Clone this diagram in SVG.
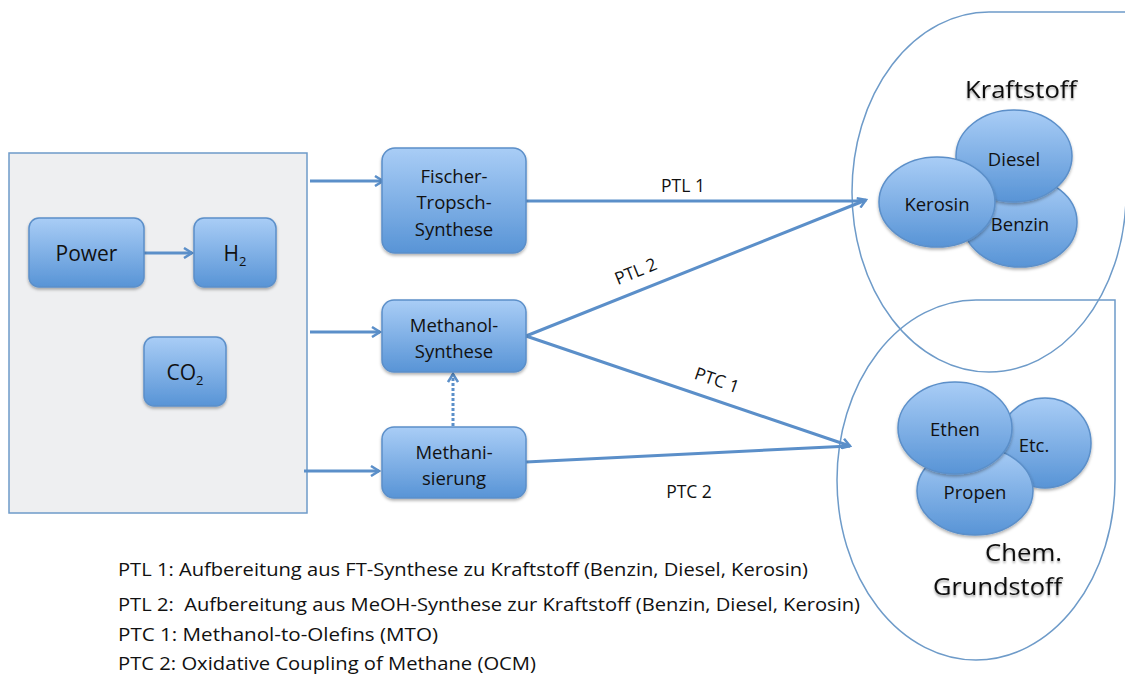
<svg xmlns="http://www.w3.org/2000/svg" width="1125" height="676" viewBox="0 0 1125 676">
<style>
.node{fill:url(#g);stroke:#5b8fc9;stroke-width:1.5;filter:url(#sh)}
.t{font-family:"Open Sans","Liberation Sans",sans-serif;fill:#111;text-anchor:middle}
.nt{font-size:18.5px}
.lbl{font-size:17.5px}
.big{font-family:"Open Sans","Liberation Sans",sans-serif;font-size:24px;fill:#111;filter:url(#ts)}
.leg{font-family:"Open Sans","Liberation Sans",sans-serif;font-size:19px;fill:#111}
.con{stroke:#5b8fc9;stroke-width:3;fill:none}
.outline{fill:none;stroke:#6e9bc9;stroke-width:1.5}
</style>
<defs>
<linearGradient id="g" x1="0" y1="0" x2="0" y2="1">
<stop offset="0" stop-color="#a9cdf6"/>
<stop offset="1" stop-color="#5894d6"/>
</linearGradient>
<filter id="sh" x="-20%" y="-20%" width="140%" height="150%">
<feDropShadow dx="0" dy="2" stdDeviation="1.5" flood-color="#000" flood-opacity="0.3"/>
</filter>
<filter id="ts" x="-10%" y="-30%" width="120%" height="160%">
<feDropShadow dx="0" dy="2" stdDeviation="1.2" flood-color="#000" flood-opacity="0.35"/>
</filter>
<marker id="a" viewBox="0 0 12 12" refX="10" refY="6" markerWidth="12" markerHeight="12" markerUnits="userSpaceOnUse" orient="auto">
<polyline points="2,1 10,6 2,11" fill="none" stroke="#5b8fc9" stroke-width="2.5"/>
</marker>
</defs>
<rect width="1125" height="676" fill="#fff"/>

<g id="source-box">
<rect x="9" y="153" width="298" height="360" fill="#eeeff1" stroke="#6e9bc9" stroke-width="1.5"/>
</g>

<g id="kraftstoff-region">
<path class="outline" d="M852,192 A137,180 0 0 1 989,12 L1140,12"/>
<path class="outline" d="M1126,200 A137,180 0 0 1 989,372 A137,180 0 0 1 852,192"/>
<text class="big" x="965" y="98" textLength="112" lengthAdjust="spacingAndGlyphs">Kraftstoff</text>
</g>

<g id="grundstoff-region">
<path class="outline" d="M837,480 A139,180 0 0 1 976,300 L1115,300 L1115,480 A139,180 0 0 1 976,660 A139,180 0 0 1 837,480 Z"/>
<text class="big" x="985" y="561" textLength="77" lengthAdjust="spacingAndGlyphs">Chem.</text>
<text class="big" x="933" y="595" textLength="129" lengthAdjust="spacingAndGlyphs">Grundstoff</text>
</g>

<g id="connectors">
<line class="con" x1="144" y1="253" x2="192" y2="253" marker-end="url(#a)"/>
<line class="con" x1="310" y1="181" x2="383" y2="181" marker-end="url(#a)"/>
<line class="con" x1="310" y1="332" x2="380" y2="332" marker-end="url(#a)"/>
<line class="con" x1="304" y1="471" x2="379" y2="471" marker-end="url(#a)"/>
<line class="con" x1="453" y1="426" x2="453" y2="374" stroke-dasharray="3,2" marker-end="url(#a)"/>
<line class="con" x1="526" y1="201" x2="862" y2="201"/>
<line class="con" x1="526" y1="336" x2="866" y2="200" marker-end="url(#a)"/>
<line class="con" x1="526" y1="336" x2="850" y2="446" marker-end="url(#a)"/>
<line class="con" x1="526" y1="462" x2="850" y2="446"/>
<text class="t lbl" x="683" y="192">PTL 1</text>
<text class="t lbl" transform="translate(638,277) rotate(-22)">PTL 2</text>
<text class="t lbl" transform="translate(715,386) rotate(19)">PTC 1</text>
<text class="t lbl" x="689" y="498">PTC 2</text>
</g>

<g id="power">
<rect class="node" x="29" y="218" width="115" height="69" rx="10"/>
<text class="t" x="86.5" y="261" font-size="21">Power</text>
</g>
<g id="h2">
<rect class="node" x="194" y="218" width="82" height="69" rx="10"/>
<text class="t" x="235" y="261" font-size="21">H<tspan font-size="13" dy="5">2</tspan></text>
</g>
<g id="co2">
<rect class="node" x="144" y="337" width="82" height="69" rx="10"/>
<text class="t" x="185" y="380" font-size="21">CO<tspan font-size="13" dy="5">2</tspan></text>
</g>
<g id="fischer-tropsch">
<rect class="node" x="382" y="148" width="144" height="105" rx="13"/>
<text class="t nt" x="454" y="183">Fischer-</text>
<text class="t nt" x="454" y="209">Tropsch-</text>
<text class="t nt" x="454" y="236">Synthese</text>
</g>
<g id="methanol">
<rect class="node" x="382" y="300" width="144" height="72" rx="12"/>
<text class="t nt" x="454" y="332">Methanol-</text>
<text class="t nt" x="454" y="358">Synthese</text>
</g>
<g id="methanisierung">
<rect class="node" x="382" y="427" width="144" height="71" rx="12"/>
<text class="t nt" x="454" y="459">Methani-</text>
<text class="t nt" x="454" y="485">sierung</text>
</g>

<g id="benzin">
<ellipse class="node" cx="1020" cy="222" rx="57" ry="45"/>
<text class="t nt" x="1020" y="231">Benzin</text>
</g>
<g id="diesel">
<ellipse class="node" cx="1014" cy="156" rx="58" ry="46"/>
<text class="t nt" x="1014" y="166">Diesel</text>
</g>
<g id="kerosin">
<ellipse class="node" cx="937" cy="202" rx="58" ry="45"/>
<text class="t nt" x="937" y="211">Kerosin</text>
</g>
<g id="etc">
<ellipse class="node" cx="1045" cy="443" rx="46" ry="45"/>
<text class="t nt" x="1034" y="452">Etc.</text>
</g>
<g id="propen">
<ellipse class="node" cx="975" cy="491" rx="58" ry="44"/>
<text class="t nt" x="975" y="499">Propen</text>
</g>
<g id="ethen">
<ellipse class="node" cx="955" cy="428" rx="57" ry="46"/>
<text class="t nt" x="955" y="436">Ethen</text>
</g>

<g id="legend">
<text class="leg" x="118" y="576" textLength="690" lengthAdjust="spacingAndGlyphs">PTL 1: Aufbereitung aus FT-Synthese zu Kraftstoff (Benzin, Diesel, Kerosin)</text>
<text class="leg" x="118" y="611" textLength="742" lengthAdjust="spacingAndGlyphs" xml:space="preserve">PTL 2:  Aufbereitung aus MeOH-Synthese zur Kraftstoff (Benzin, Diesel, Kerosin)</text>
<text class="leg" x="118" y="641" textLength="320" lengthAdjust="spacingAndGlyphs">PTC 1: Methanol-to-Olefins (MTO)</text>
<text class="leg" x="118" y="670" textLength="418" lengthAdjust="spacingAndGlyphs">PTC 2: Oxidative Coupling of Methane (OCM)</text>
</g>
</svg>
